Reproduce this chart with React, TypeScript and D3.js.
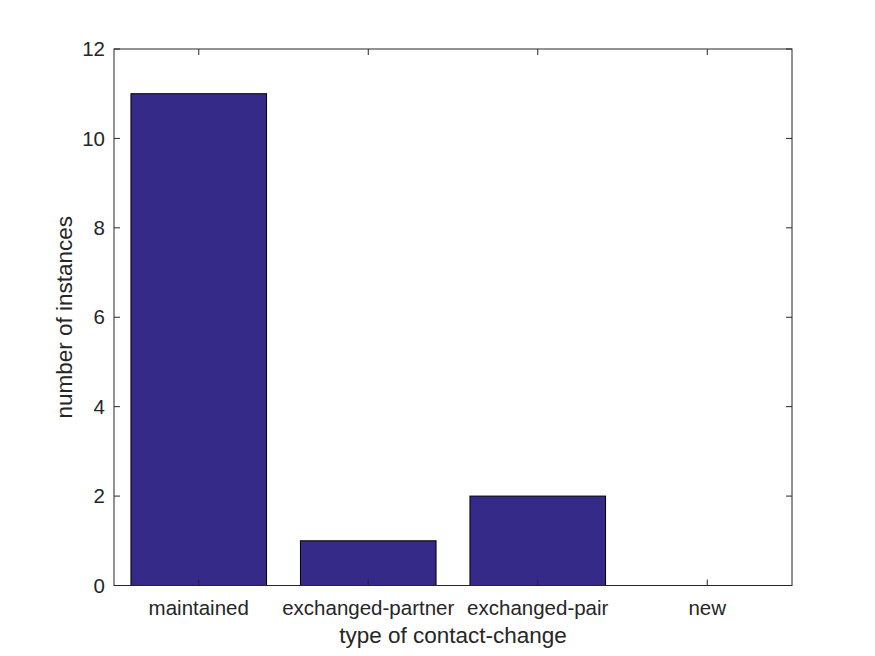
import React from "react";
import * as d3 from "d3";

const categories = ["maintained", "exchanged-partner", "exchanged-pair", "new"];
const counts = [11, 1, 2, 0];
const yTicks = [0, 2, 4, 6, 8, 10, 12];

export default function App() {
  const W = 875, H = 656;
  const left = 114, right = 792, top = 49, bottom = 585.5;
  const x = d3.scaleBand<string>().domain(categories).range([left, right]).paddingInner(0.2).paddingOuter(0.1);
  const xc = d3.scalePoint<string>().domain(categories).range([left, right]).padding(0.5);
  const y = d3.scaleLinear().domain([0, 12]).range([bottom, top]);
  const font = "Liberation Sans, Arial, Helvetica, sans-serif";
  const tc = "#262626";
  const tl = 6;
  return (
    <svg width={W} height={H} style={{ position: "absolute", left: 0, top: 0, background: "#fff" }}>
      {categories.map((c, i) => {
        const v = counts[i];
        if (v <= 0) return null;
        const cx = xc(c)!;
        const bw = x.bandwidth();
        return (
          <rect key={c} x={cx - bw / 2} y={y(v)} width={bw} height={y(0) - y(v)}
            fill="#352a87" stroke="#000" strokeWidth={1} />
        );
      })}
      <rect x={left} y={top} width={right - left} height={bottom - top} fill="none" stroke={tc} strokeWidth={1} />
      {yTicks.map((t) => (
        <g key={t}>
          <line x1={left} x2={left + tl} y1={y(t)} y2={y(t)} stroke={tc} />
          <line x1={right} x2={right - tl} y1={y(t)} y2={y(t)} stroke={tc} />
          <text x={105} y={y(t)} dy="0.35em" textAnchor="end" fontSize={20.5} fill={tc} fontFamily={font}>{t}</text>
        </g>
      ))}
      {categories.map((c) => (
        <g key={c}>
          <line x1={xc(c)} x2={xc(c)} y1={bottom} y2={bottom - tl} stroke={tc} />
          <line x1={xc(c)} x2={xc(c)} y1={top} y2={top + tl} stroke={tc} />
          <text x={xc(c)} y={615} textAnchor="middle" fontSize={20.5} fill={tc} fontFamily={font}>{c}</text>
        </g>
      ))}
      <text x={(left + right) / 2} y={643} textAnchor="middle" fontSize={22.5} fill={tc} fontFamily={font}>type of contact-change</text>
      <text transform={`translate(72,${(top + bottom) / 2}) rotate(-90)`} textAnchor="middle" fontSize={22.5} fill={tc} fontFamily={font}>number of instances</text>
    </svg>
  );
}
